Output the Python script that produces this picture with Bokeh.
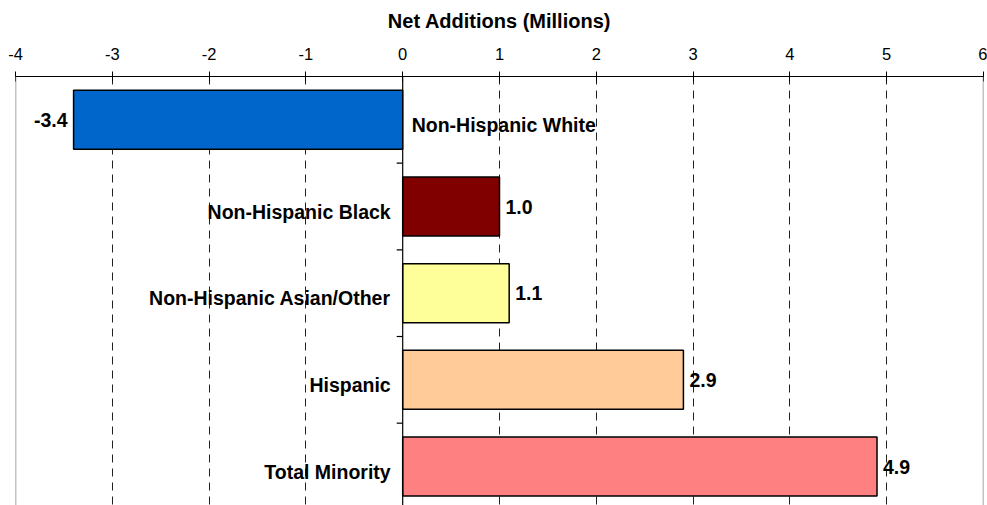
from bokeh.plotting import figure
from bokeh.models import ColumnDataSource, Range1d, FixedTicker, Span
from bokeh.core.properties import value
from bokeh.embed import file_html
from bokeh.resources import INLINE

# ---- data ----
categories = ["Non-Hispanic White", "Non-Hispanic Black", "Non-Hispanic Asian/Other",
              "Hispanic", "Total Minority"]
net_additions = [-3.4, 1.0, 1.1, 2.9, 4.9]
x_ticks = [-4, -3, -2, -1, 0, 1, 2, 3, 4, 5, 6]
axis_title = "Net Additions (Millions)"

# ---- styles ----
bar_colors = ["#0066CC", "#800000", "#FFFF99", "#FFCC99", "#FF8080"]
FONT = value("Liberation Sans")
LABEL_SIZE = "19.5px"

n = len(categories)
centers = [i + 0.5 for i in range(n)]
boundaries = list(range(1, n))
val_text = ["%.1f" % v for v in net_additions]
val_align = ["right" if v < 0 else "left" for v in net_additions]
val_off = [-6 if v < 0 else 6 for v in net_additions]
cat_align = ["left" if v < 0 else "right" for v in net_additions]
cat_off = [9 if v < 0 else -12 for v in net_additions]
zeros = [0] * n

src = ColumnDataSource(dict(y=centers, v=net_additions, z=zeros, cat=categories,
                            color=bar_colors, vt=val_text, va=val_align, vo=val_off,
                            ca=cat_align, co=cat_off))

p = figure(width=987, height=505, output_backend="svg", toolbar_location=None,
           x_range=Range1d(x_ticks[0], x_ticks[-1]), y_range=Range1d(4.95, 0),
           x_axis_location="above", y_axis_location=None,
           min_border_left=15, min_border_right=4, min_border_top=76, min_border_bottom=0)
p.outline_line_color = None
p.background_fill_color = "white"
p.border_fill_color = "white"

# grid
p.ygrid.visible = False
p.xgrid.ticker = FixedTicker(ticks=[t for t in x_ticks if t not in (x_ticks[0], 0, x_ticks[-1])])
p.xgrid.grid_line_color = "#222222"
p.xgrid.grid_line_dash = "8 6"
p.xgrid.grid_line_width = 1

# frame side lines
for loc in (x_ticks[0], x_ticks[-1]):
    p.add_layout(Span(location=loc, dimension="height", line_color="#888888", line_width=1.5))

# top axis
xa = p.xaxis[0]
xa.ticker = FixedTicker(ticks=x_ticks)
xa.major_label_overrides = {t: str(t) for t in x_ticks}
xa.axis_line_color = "black"
xa.axis_line_width = 1.2
xa.major_tick_in = 5
xa.major_tick_out = 5
xa.major_tick_line_color = "black"
xa.minor_tick_line_color = None
xa.major_label_text_font = "Liberation Sans"
xa.major_label_text_font_size = "16.5px"
xa.major_label_text_color = "black"
xa.major_label_standoff = 12
xa.axis_label = axis_title
xa.axis_label_text_font = "Liberation Sans"
xa.axis_label_text_font_style = "bold"
xa.axis_label_text_font_size = "20px"
xa.axis_label_text_color = "black"
xa.axis_label_standoff = 13

# category axis at zero: vertical line + small ticks pointing left
p.add_layout(Span(location=0, dimension="height", line_color="black", line_width=1.2))
p.ray(x=[0] * len(boundaries), y=boundaries, length=6, length_units="screen",
      angle=180, angle_units="deg", line_color="black", line_width=1.2)

# bars
p.hbar(y="y", left="z", right="v", height=0.68, fill_color="color",
       line_color="black", line_width=1.5, source=src)

# value labels
p.text(x="v", y="y", text="vt", x_offset="vo", text_align="va", text_baseline="middle",
       text_font=FONT, text_font_style="bold", text_font_size=LABEL_SIZE,
       text_color="black", source=src)

# category labels
p.text(x="z", y="y", text="cat", x_offset="co", y_offset=5, text_align="ca",
       text_baseline="middle", text_font=FONT, text_font_style="bold",
       text_font_size=LABEL_SIZE, text_color="black", source=src)

open("out.html", "w").write(file_html(p, INLINE))
